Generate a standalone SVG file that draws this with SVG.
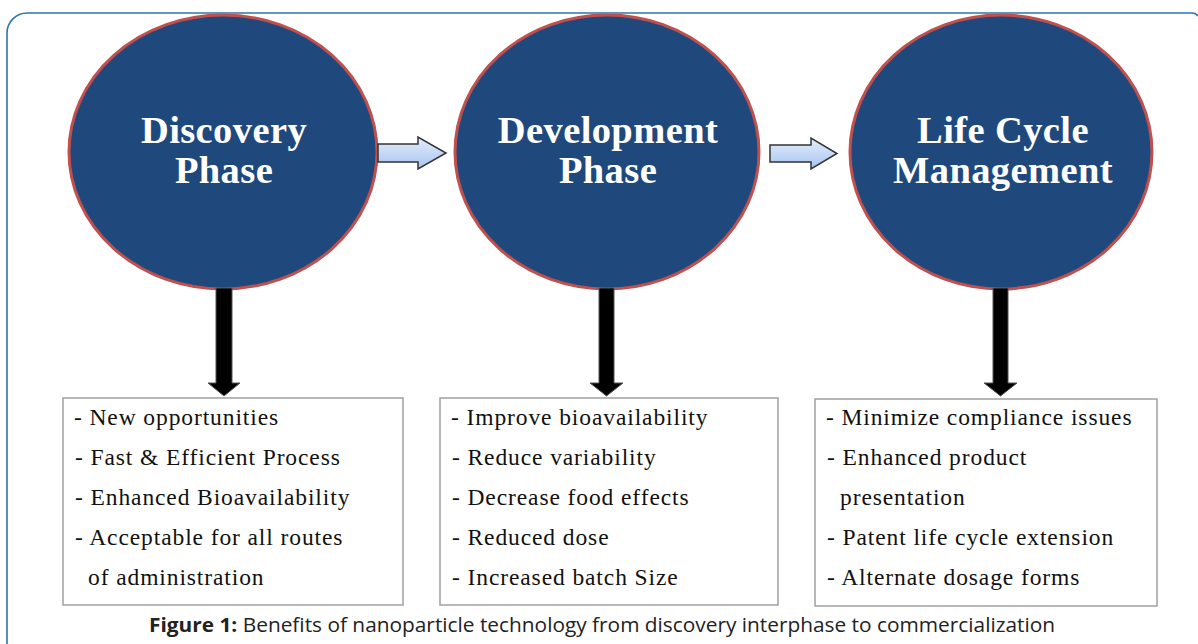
<svg xmlns="http://www.w3.org/2000/svg" width="1198" height="644" viewBox="0 0 1198 644">
<defs>
<linearGradient id="ag" x1="0" y1="0" x2="0" y2="1">
<stop offset="0" stop-color="#e3edfc"/>
<stop offset="1" stop-color="#a6c4f0"/>
</linearGradient>
<style>
.phase{fill:#1f497d;stroke:#c0504d;stroke-width:3}
.ptxt{font-family:"Liberation Serif","Times New Roman",serif;font-weight:bold;font-size:38.5px;letter-spacing:0.4px;fill:#ffffff;text-anchor:middle}
.box{fill:#ffffff;stroke:#a0a0a0;stroke-width:1.5}
.btxt{font-family:"Liberation Serif","Times New Roman",serif;font-size:23.5px;letter-spacing:0.9px;fill:#111111}
.harrow{fill:url(#ag);stroke:#333333;stroke-width:1.5;stroke-linejoin:miter}
.varrow{fill:#000000;stroke:#555555;stroke-width:1}
.cap{font-family:"Open Sans","Liberation Sans",sans-serif;font-size:20px;fill:#222222}
</style>
</defs>
<path d="M7,650 L7,33 A20,20 0 0 1 27,13 L1192,13 Q1196,13 1198,16" fill="none" stroke="#2f77aa" stroke-width="1.6"/>
<g id="discovery">
<ellipse class="phase" cx="223" cy="152" rx="154" ry="137"/>
<text class="ptxt" x="224" y="143">Discovery</text>
<text class="ptxt" x="224" y="183">Phase</text>
</g>
<g id="development">
<ellipse class="phase" cx="607" cy="152" rx="152" ry="137"/>
<text class="ptxt" x="608" y="143">Development</text>
<text class="ptxt" x="608" y="183">Phase</text>
</g>
<g id="lifecycle">
<ellipse class="phase" cx="1001" cy="152" rx="151" ry="137"/>
<text class="ptxt" x="1003" y="143">Life Cycle</text>
<text class="ptxt" x="1003" y="183">Management</text>
</g>
<g id="connectors">
<path class="harrow" d="M378,144 L418,144 L418,137 L446,153 L418,169 L418,162 L378,162 Z"/>
<path class="harrow" d="M770,145 L811,145 L811,138 L837,153.5 L811,169 L811,162 L770,162 Z"/>
<path class="varrow" d="M216,288 L232,288 L232,383 L240,383 L224,396 L208,383 L216,383 Z"/>
<path class="varrow" d="M599,288 L614,288 L614,383 L623,383 L606.5,396 L590,383 L599,383 Z"/>
<path class="varrow" d="M993,288 L1008,288 L1008,383 L1017,383 L1000.5,396 L984,383 L993,383 Z"/>
</g>
<g id="box-discovery">
<rect class="box" x="63" y="398" width="340" height="207"/>
<text class="btxt" x="74" y="425">- New opportunities</text>
<text class="btxt" x="75" y="465">- Fast &amp; Efficient Process</text>
<text class="btxt" x="75" y="505">- Enhanced Bioavailability</text>
<text class="btxt" x="75" y="545">- Acceptable for all routes</text>
<text class="btxt" x="88" y="585">of administration</text>
</g>
<g id="box-development">
<rect class="box" x="440" y="398" width="338" height="207"/>
<text class="btxt" x="451" y="425">- Improve bioavailability</text>
<text class="btxt" x="452" y="465">- Reduce variability</text>
<text class="btxt" x="452" y="505">- Decrease food effects</text>
<text class="btxt" x="452" y="545">- Reduced dose</text>
<text class="btxt" x="452" y="585">- Increased batch Size</text>
</g>
<g id="box-lifecycle">
<rect class="box" x="815" y="399" width="342" height="207"/>
<text class="btxt" x="826" y="425">- Minimize compliance issues</text>
<text class="btxt" x="827" y="465">- Enhanced product</text>
<text class="btxt" x="840" y="505">presentation</text>
<text class="btxt" x="827" y="545">- Patent life cycle extension</text>
<text class="btxt" x="827" y="585">- Alternate dosage forms</text>
</g>
<text class="cap" x="149" y="632" textLength="906" lengthAdjust="spacingAndGlyphs"><tspan font-weight="bold">Figure 1:</tspan> Benefits of nanoparticle technology from discovery interphase to commercialization</text>
</svg>
